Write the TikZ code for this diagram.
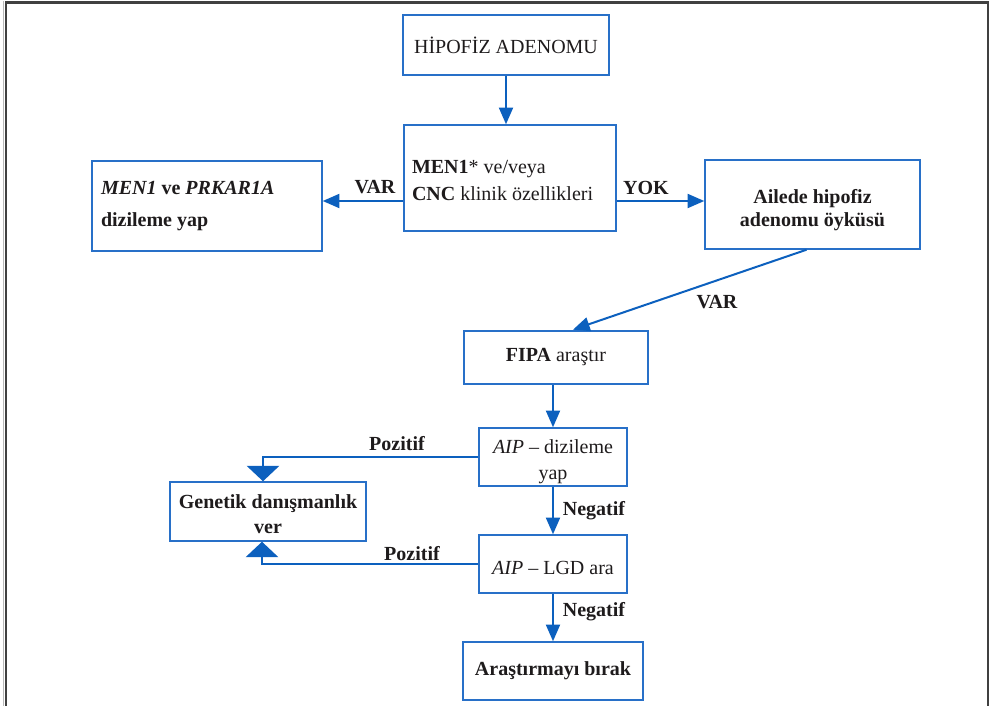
\documentclass[tikz,border=0pt]{standalone}
\usepackage{fontspec}
\setmainfont{Liberation Serif}
\usetikzlibrary{arrows.meta,calc}
\definecolor{bx}{RGB}{40,112,200}
\definecolor{ar}{RGB}{12,96,190}
\definecolor{tx}{RGB}{30,27,28}
\begin{document}
\begin{tikzpicture}[x=0.75pt,y=-0.75pt,
  font=\fontsize{15}{19}\selectfont, text=tx,
  box/.style={draw=bx, line width=1.1pt, inner sep=0pt, align=flush center},
  arr/.style={draw=ar, line width=1.5pt, -{Triangle[length=12.5pt,width=10.5pt]}},
  fat/.style={draw=ar, line width=2pt, -{Triangle[length=11.5pt,width=24pt]}},
  lab/.style={font=\fontsize{15}{19}\selectfont\bfseries, inner sep=0pt}]
\useasboundingbox (0,0) rectangle (993,706);
% frame
\draw[gray!55, line width=1pt] (3.5,706) -- (3.5,1);
\draw[black!75, line width=1.6pt] (6,706) -- (6,2.5) -- (988,2.5) -- (988,706);
% nodes
\node[box, minimum width=206*0.75pt, minimum height=60*0.75pt] (hip) at (506,45) {HİPOFİZ ADENOMU};
\node[box, minimum width=212*0.75pt, minimum height=106*0.75pt, text width=196*0.75pt, align=flush left,
  font=\fontsize{15}{20}\selectfont] (men) at (510,178)
  {\rule{0pt}{14pt}\textbf{MEN1}* ve/veya\\\textbf{CNC} klinik özellikleri};
\node[box, minimum width=230*0.75pt, minimum height=90*0.75pt, text width=212*0.75pt, align=flush left,
  font=\fontsize{15}{24}\selectfont\bfseries] (lft) at (207,206)
  {\textit{MEN1} ve \textit{PRKAR1A}\\dizileme yap};
\node[box, minimum width=215*0.75pt, minimum height=89*0.75pt, text width=200*0.75pt,
  font=\fontsize{15}{17}\selectfont\bfseries] (ail) at (812.5,204.5)
  {\rule{0pt}{19pt}Ailede hipofiz\\adenomu öyküsü};
\node[box, line width=2pt, minimum width=184*0.75pt, minimum height=53*0.75pt] (fipa) at (556,357.5)
  {\textbf{FIPA} araştır};
\node[box, minimum width=148*0.75pt, minimum height=58*0.75pt] (aip1) at (553,457)
  {\rule{0pt}{17.5pt}\textit{AIP} – dizileme\\yap};
\node[box, minimum width=196*0.75pt, minimum height=59*0.75pt, font=\fontsize{15}{19}\selectfont\bfseries] (gen) at (268,511.5)
  {\rule{0pt}{14.5pt}Genetik danışmanlık\\ver};
\node[box, minimum width=148*0.75pt, minimum height=58*0.75pt] (aip2) at (553,564)
  {\rule{0pt}{16pt}\textit{AIP} – LGD ara};
\node[box, minimum width=180*0.75pt, minimum height=58*0.75pt, font=\fontsize{15}{19}\selectfont\bfseries] (ara) at (553,671)
  {Araştırmayı bırak};
% coordinates
\coordinate (mw) at ($(men.west)+(0,23)$);
\coordinate (me) at ($(men.east)+(0,23)$);
\coordinate (as) at ($(ail.south)+(-6,0)$);
\coordinate (fn) at ($(fipa.north)+(17,0)$);
\coordinate (c1) at (263,457);
\coordinate (c2) at (262,564);
% connectors
\draw[arr] (hip.south) -- (hip.south |- men.north);
\draw[arr] (mw) -- (mw -| lft.east);
\draw[arr] (me) -- (me -| ail.west);
\draw[arr] (as) -- (fn);
\draw[arr] (fipa.south -| aip1.north) -- (aip1.north);
\draw[arr] (aip1.south) -- (aip2.north);
\draw[arr] (aip2.south) -- (ara.north);
\draw[fat] (aip1.west) -- (c1) -- (c1 |- gen.north);
\draw[fat] (aip2.west) -- (c2) -- (c2 |- gen.south);
% labels
\node[lab] (l1) at (375,187) {VAR};
\node[lab] (l2) at (646,188) {YOK};
\node[lab] (l3) at (717,302) {VAR};
\node[lab] (l4) at (397,444) {Pozitif};
\node[lab] (l5) at (594,511) {Negatif};
\node[lab] (l6) at (412,554) {Pozitif};
\node[lab] (l7) at (594,612) {Negatif};
\end{tikzpicture}
\end{document}
